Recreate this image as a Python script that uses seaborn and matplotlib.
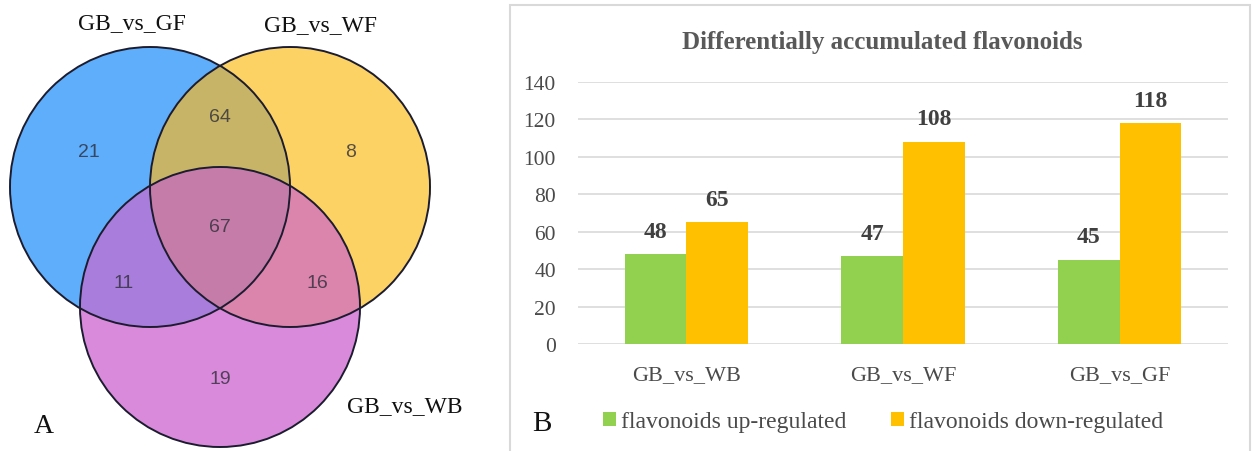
import numpy as np
import pandas as pd
import matplotlib
matplotlib.use("Agg")
import matplotlib.pyplot as plt
from matplotlib.patches import Circle, Polygon, Rectangle
import seaborn as sns

# ---------------- data ----------------
venn_sets = ["GB_vs_GF", "GB_vs_WF", "GB_vs_WB"]
venn_only = [21, 8, 19]            # GF only, WF only, WB only
venn_pairs = [64, 11, 16]          # GF&WF, GF&WB, WF&WB
venn_all = [67]

categories = ["GB_vs_WB", "GB_vs_WF", "GB_vs_GF"]
up_regulated = [48, 47, 45]
down_regulated = [65, 108, 118]
series_names = ["flavonoids up-regulated", "flavonoids down-regulated"]
y_ticks = [0, 20, 40, 60, 80, 100, 120, 140]

# ---------------- style ----------------
sns.set_theme(style="white")
plt.rcParams["font.family"] = ["Liberation Serif", "DejaVu Serif"]

W, H = 1252, 452
fig = plt.figure(figsize=(W / 100, H / 100), dpi=100)
fig.patch.set_facecolor("white")

def fx(px):
    return px / W

def fy(py):
    return 1 - py / H

# ---------------- panel A : Venn ----------------
axv = fig.add_axes([0, 0, 500 / W, 1])
axv.set_xlim(0, 500)
axv.set_ylim(H, 0)
axv.set_axis_off()

R = 140
centers = [(150, 188), (290, 188), (220, 308)]
col_single = ["#5EAEFB", "#FDD264", "#DA8ADB"]
col_gf_wf = "#C8B466"
col_gf_wb = "#A97DDB"
col_wf_wb = "#DB84AC"
col_all = "#C67CA8"

def circ(i, **kw):
    return Circle(centers[i], R, transform=axv.transData, **kw)

for i in range(3):
    axv.add_patch(circ(i, facecolor=col_single[i], edgecolor="none", zorder=1))

# pairwise overlaps (drawn with clipping)
p = circ(1, facecolor=col_gf_wf, edgecolor="none", zorder=2)
axv.add_patch(p); p.set_clip_path(circ(0))
p = circ(2, facecolor=col_gf_wb, edgecolor="none", zorder=3)
axv.add_patch(p); p.set_clip_path(circ(0))
p = circ(2, facecolor=col_wf_wb, edgecolor="none", zorder=3)
axv.add_patch(p); p.set_clip_path(circ(1))

# triple overlap (convex intersection)
t = np.linspace(0, 2 * np.pi, 2000)
pts = np.vstack([np.c_[cx + R * np.cos(t), cy + R * np.sin(t)] for cx, cy in centers])
inside = np.all([np.hypot(pts[:, 0] - cx, pts[:, 1] - cy) <= R + 1e-6 for cx, cy in centers], axis=0)
tri = pts[inside]
m = tri.mean(axis=0)
tri = tri[np.argsort(np.arctan2(tri[:, 1] - m[1], tri[:, 0] - m[0]))]
axv.add_patch(Polygon(tri, closed=True, facecolor=col_all, edgecolor="none", zorder=4))

for i in range(3):
    axv.add_patch(circ(i, facecolor="none", edgecolor="#1C1C30", lw=1.4, zorder=6))

num_kw = dict(ha="center", va="center", fontsize=14, color="#2E2E3A", alpha=0.8,
              family=["Liberation Sans", "DejaVu Sans"], zorder=7)
only_pos = [(89, 153), (351, 153), (220, 380)]
pair_pos = [(220, 117), (124, 284), (317, 284)]
for v, (x, y) in zip(venn_only, only_pos):
    axv.text(x, y, str(v), **num_kw)
for v, (x, y) in zip(venn_pairs, pair_pos):
    axv.text(x, y, str(v), **num_kw)
axv.text(220, 228, str(venn_all[0]), **num_kw)

set_pos = [(132, 24), (320, 26), (405, 407)]
for name, (x, y) in zip(venn_sets, set_pos):
    axv.text(x, y, name, ha="center", va="center", fontsize=17, color="#111111")
axv.text(44, 427, "A", ha="center", va="center", fontsize=20, color="#111111")

# ---------------- panel B : bars ----------------
fig.add_artist(Rectangle((fx(510), fy(470)), fx(1250) - fx(510), fy(6) - fy(470),
                         transform=fig.transFigure, facecolor="none",
                         edgecolor="#D9D9D9", lw=1.5))

axb = fig.add_axes([fx(578), fy(345), fx(1228) - fx(578), fy(83) - fy(345)])
df = pd.DataFrame({
    "comparison": categories * 2,
    "count": up_regulated + down_regulated,
    "type": [series_names[0]] * 3 + [series_names[1]] * 3,
})
sns.barplot(data=df, x="comparison", y="count", hue="type", order=categories,
            hue_order=series_names, palette=["#92D050", "#FFC000"], saturation=1,
            width=0.57, gap=0, edgecolor="none", linewidth=0, ax=axb)

for cont in axb.containers:
    axb.bar_label(cont, padding=9, fontsize=17, fontweight="bold", color="#404040")

axb.set_xlim(-0.5, 2.5)
axb.set_ylim(0, 140)
axb.set_yticks(y_ticks)
axb.set_xlabel("")
axb.set_ylabel("")
for s in axb.spines.values():
    s.set_visible(False)
axb.yaxis.grid(True, color="#D9D9D9", lw=1.2)
axb.set_axisbelow(True)
axb.tick_params(axis="both", length=0, labelsize=16, colors="#4A4A4A")
axb.tick_params(axis="y", pad=16, labelsize=15.5)
axb.tick_params(axis="x", pad=15)
axb.set_facecolor("none")

handles, labels = axb.get_legend_handles_labels()
axb.get_legend().remove()
fig.legend(handles, labels, loc="center left", bbox_to_anchor=(fx(603), fy(423)),
           ncol=2, frameon=False, fontsize=17, handlelength=0.55, handleheight=0.55,
           handletextpad=0.2, columnspacing=1.9, borderpad=0, borderaxespad=0,
           labelcolor="#4A4A4A")

fig.text(fx(882), fy(42), "Differentially accumulated flavonoids", ha="center", va="center",
         fontsize=18, fontweight="bold", color="#595959")
fig.text(fx(542), fy(424), "B", ha="center", va="center", fontsize=21, color="#111111")

fig.savefig("out.png", dpi=100)
